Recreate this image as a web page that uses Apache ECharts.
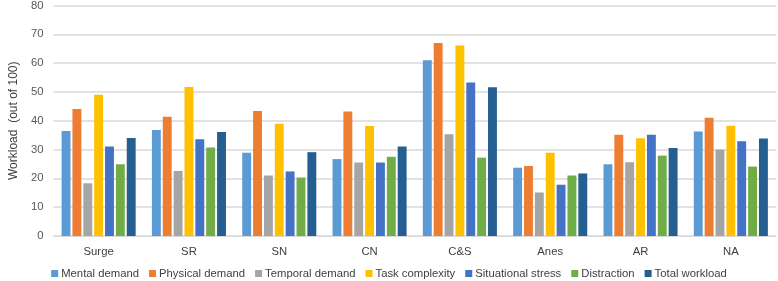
<!DOCTYPE html>
<html>
<head>
<meta charset="utf-8">
<script src="https://cdn.jsdelivr.net/npm/echarts@6/dist/echarts.min.js"></script>
<style>
  html, body { margin: 0; padding: 0; background: #fff; }
  #chart { width: 778px; height: 281px; }
</style>
</head>
<body>
<div id="chart"></div>
<script>
const categories = ['Surge', 'SR', 'SN', 'CN', 'C&S', 'Anes', 'AR', 'NA']
const mentalDemand = [36.4, 36.8, 28.9, 26.7, 61.0, 23.7, 24.9, 36.3]
const physicalDemand = [44.1, 41.4, 43.4, 43.2, 67.0, 24.3, 35.1, 41.0]
const temporalDemand = [18.3, 22.6, 21.0, 25.5, 35.3, 15.1, 25.6, 30.0]
const taskComplexity = [49.0, 51.7, 39.0, 38.2, 66.1, 28.9, 33.9, 38.3]
const situationalStress = [31.1, 33.6, 22.4, 25.5, 53.3, 17.8, 35.1, 32.9]
const distraction = [24.9, 30.7, 20.3, 27.5, 27.2, 21.0, 27.9, 24.1]
const totalWorkload = [34.0, 36.1, 29.1, 31.1, 51.6, 21.7, 30.5, 33.8]

const seriesList = [
  { name: 'Mental demand', data: mentalDemand, color: '#5B9BD5' },
  { name: 'Physical demand', data: physicalDemand, color: '#ED7D31' },
  { name: 'Temporal demand', data: temporalDemand, color: '#A5A5A5' },
  { name: 'Task complexity', data: taskComplexity, color: '#FFC000' },
  { name: 'Situational stress', data: situationalStress, color: '#4472C4' },
  { name: 'Distraction', data: distraction, color: '#70AD47' },
  { name: 'Total workload', data: totalWorkload, color: '#255E91' }
]

const font = '"Liberation Sans", Arial, sans-serif'
const chart = echarts.init(document.getElementById('chart'))

chart.setOption({
  animation: false,
  textStyle: { fontFamily: font },
  grid: { left: 38, right: 2, top: 4, bottom: 45 },
  legend: {
    top: 268,
    left: 'center',
    padding: 0,
    itemWidth: 7,
    itemHeight: 7,
    itemGap: 10,
    icon: 'rect',
    textStyle: { fontFamily: font, fontSize: 11.3, color: '#404040', padding: [0, 0, 0, -2] },
    data: seriesList.map(s => s.name)
  },
  xAxis: {
    type: 'category',
    data: categories,
    axisTick: { show: false },
    axisLine: { lineStyle: { color: '#D9D9D9', width: 1 } },
    axisLabel: { fontFamily: font, fontSize: 11.3, color: '#404040', margin: 10 }
  },
  yAxis: {
    type: 'value',
    min: 0,
    max: 80,
    interval: 10,
    name: 'Workload  (out of 100)',
    nameLocation: 'middle',
    nameGap: 30,
    nameTextStyle: { fontFamily: font, fontSize: 12, color: '#404040' },
    axisLabel: { fontFamily: font, fontSize: 11.3, color: '#595959', margin: 10 },
    splitLine: { lineStyle: { color: '#D9D9D9', width: 1.5 } }
  },
  series: seriesList.map(s => ({
    name: s.name,
    type: 'bar',
    data: s.data,
    barGap: '22%',
    barCategoryGap: '18%',
    itemStyle: { color: s.color }
  }))
})
</script>
</body>
</html>
